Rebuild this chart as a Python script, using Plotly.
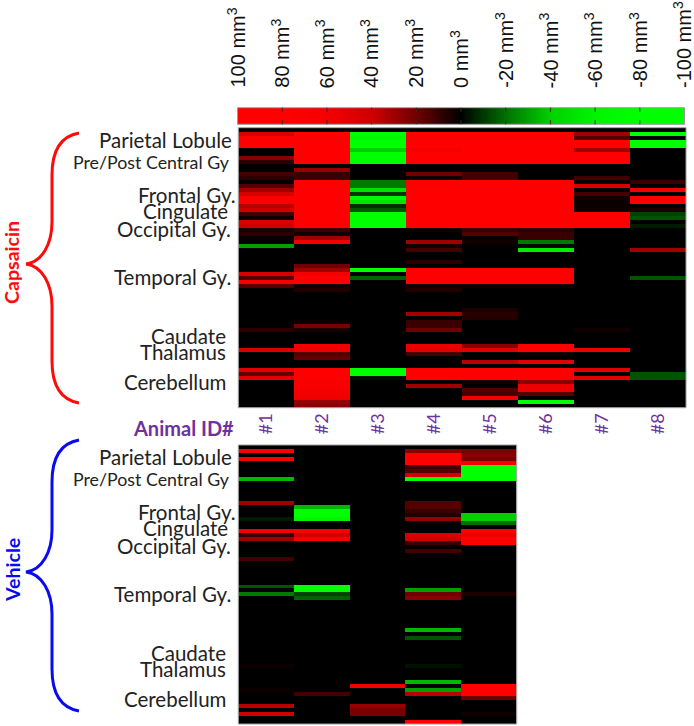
import plotly.graph_objects as go

# Change in volume (mm3), rows = brain voxels/clusters top to bottom, one list per animal
animals_cap = ["#1", "#2", "#3", "#4", "#5", "#6", "#7", "#8"]
animals_veh = ["#1", "#2", "#3", "#4", "#5"]
cap_1 = [0,45,100,100,100,0,0,25,8,0,0,12,8,0,15,30,45,80,90,35,40,12,2,45,40,5,8,2,0,-30,0,0,0,0,0,0,45,15,60,15,0,0,0,0,0,0,0,0,0,0,8,0,0,0,0,45,0,0,0,0,50,18,50,0,0,0,0,0,0,0]
cap_2 = [0,100,100,100,100,100,100,100,100,0,28,10,10,100,100,100,100,100,100,100,100,100,100,100,100,10,3,30,60,0,0,0,0,0,20,30,60,100,100,3,6,0,0,0,0,0,0,0,2,22,4,0,0,0,60,55,15,18,0,0,100,100,100,65,65,60,60,55,28,25]
cap_3 = [0,-100,-70,-100,-100,-40,-100,-100,-100,0,0,0,0,-22,-22,-50,-10,-70,-50,-8,-15,-100,-100,-100,-100,0,0,0,0,0,0,0,0,0,0,-100,0,-18,0,0,0,0,0,0,0,0,0,0,0,0,0,0,0,0,0,0,0,0,0,0,-100,-100,-3,0,0,0,0,0,0,0]
cap_4 = [0,100,100,100,100,60,100,100,100,0,0,20,3,100,100,100,100,100,100,100,100,100,100,100,100,3,0,0,30,3,12,0,0,8,0,100,100,100,100,3,6,0,0,0,0,0,30,0,10,10,20,0,0,0,55,50,12,0,0,0,100,100,100,0,30,0,0,0,0,0]
cap_5 = [0,100,100,100,100,100,100,100,100,0,0,12,12,100,100,100,100,100,100,100,100,100,100,100,100,10,15,2,3,0,0,0,0,0,0,100,100,100,100,3,0,0,0,0,0,5,7,6,0,0,0,0,0,0,25,50,0,0,35,0,100,100,100,3,0,15,12,60,0,0]
cap_6 = [0,100,100,100,100,100,100,100,100,0,0,0,0,100,100,100,100,100,100,100,100,100,100,100,100,8,10,10,-22,-2,-55,0,0,0,0,100,100,100,100,3,0,0,0,0,0,0,0,0,0,0,0,0,0,0,100,100,3,0,50,0,100,100,100,25,55,55,15,0,-90,0]
cap_7 = [0,30,15,100,100,30,100,100,100,0,0,0,12,2,45,0,12,3,2,2,3,100,100,100,100,0,0,0,0,0,0,0,0,0,0,0,0,0,0,0,0,0,0,0,0,0,0,0,0,0,3,0,0,0,0,55,0,0,0,0,50,0,50,0,0,0,0,0,0,0]
cap_8 = [0,-100,0,-80,-80,0,0,0,0,0,0,0,0,10,0,60,0,75,75,0,5,-12,-15,0,-5,0,0,0,0,0,30,0,0,0,0,0,0,-15,0,0,0,0,0,0,0,0,0,0,0,0,0,0,0,0,0,0,0,0,0,0,0,-15,-15,0,0,0,0,0,0,0]
veh_1 = [0,70,0,65,0,0,0,0,-35,0,0,0,0,0,30,0,0,0,-5,0,0,60,10,30,0,0,0,0,12,0,0,0,0,0,0,-15,0,-22,0,0,0,0,0,0,0,0,0,0,0,0,0,0,0,0,0,2,0,0,0,0,0,2,0,0,0,35,0,40,0,0]
veh_2 = [0,0,0,0,0,0,0,0,0,0,0,0,0,0,0,-35,-100,-90,-60,0,0,70,40,65,0,0,0,0,0,0,0,0,0,0,0,-90,-90,-12,-18,0,0,0,0,0,0,0,0,0,0,0,0,0,0,0,0,0,0,0,0,0,0,0,12,0,0,0,0,0,0,0]
veh_3 = [0,0,0,0,0,0,0,0,0,0,0,0,0,0,0,0,0,0,0,0,0,0,0,0,0,0,0,0,0,0,0,0,0,0,0,0,0,0,0,0,0,0,0,0,0,0,0,0,0,0,0,0,0,0,0,0,0,0,0,0,60,0,0,0,0,28,22,22,0,0]
veh_4 = [0,25,100,100,100,12,15,40,-85,0,0,0,0,0,15,15,10,6,28,0,0,0,45,40,10,0,12,0,0,0,0,0,0,0,0,0,-30,20,25,0,0,0,0,0,0,0,-35,0,-15,0,0,0,0,0,0,-3,0,0,0,-35,0,-30,35,0,0,0,0,0,0,90]
veh_5 = [0,22,25,22,60,-80,-80,-100,-100,0,0,0,0,0,0,0,0,-40,-40,-20,0,100,55,100,100,0,0,0,0,0,0,0,0,0,0,0,0,5,0,0,0,0,0,0,0,0,0,0,0,0,0,0,0,0,0,0,0,0,0,0,100,100,100,20,0,0,0,3,0,0]

regions = ["Parietal Lobule", "Pre/Post Central Gy", "Frontal Gy.", "Cingulate", "Occipital Gy.",
           "Temporal Gy.", "Caudate", "Thalamus", "Cerebellum"]
scale_values = [100, 80, 60, 40, 20, 0, -20, -40, -60, -80, -100]

W, H = 694, 726
def px(x): return x / W
def py(y): return 1 - y / H
def dx(a, b): return [px(a), px(b)]
def dy(top, bottom): return [py(bottom), py(top)]

CS = [[0, "#00ff00"], [0.1, "#00ff00"], [0.2, "#00f500"], [0.3, "#00d000"], [0.35, "#00a000"], [0.4, "#007000"],
      [0.45, "#003800"], [0.5, "#000000"], [0.55, "#380000"], [0.6, "#700000"], [0.65, "#a00000"],
      [0.7, "#d00000"], [0.8, "#f50000"], [0.9, "#ff0000"], [1, "#ff0000"]]
BORDER = "#9a9a9a"
PURPLE = "#7030a0"
LABEL = "Lato"
TEXT = "#222222"

def rows_of(cols):
    return [list(r) for r in zip(*cols)]

fig = go.Figure()
top = rows_of([cap_1, cap_2, cap_3, cap_4, cap_5, cap_6, cap_7, cap_8])
bot = rows_of([veh_1, veh_2, veh_3, veh_4, veh_5])
fig.add_trace(go.Heatmap(z=top, x=animals_cap, y=list(range(70)), zmin=-100, zmax=100,
                         colorscale=CS, showscale=False, xaxis="x", yaxis="y"))
fig.add_trace(go.Heatmap(z=bot, x=animals_veh, y=list(range(70)), zmin=-100, zmax=100,
                         colorscale=CS, showscale=False, xaxis="x2", yaxis="y2"))
# colour key: fine steps along the scale, drawn as a heatmap
key = list(range(100, -101, -1))
fig.add_trace(go.Heatmap(z=[key], x=key, y=[0], zmin=-100, zmax=100,
                         colorscale=CS, showscale=False, xaxis="x3", yaxis="y3"))

plain = dict(showgrid=False, zeroline=False, automargin=False, showline=False)
hidden = dict(showticklabels=False, ticks="", **plain)
layout = dict(
    width=W, height=H, margin=dict(l=0, r=0, t=0, b=0), paper_bgcolor="white", plot_bgcolor="white",
    showlegend=False,
    xaxis=dict(domain=dx(238.3, 686), side="bottom", tickangle=-90, ticks="", ticklabelstandoff=1,
               tickfont=dict(family=LABEL, size=18, color=PURPLE), **plain),
    yaxis=dict(domain=dy(127.7, 407.7), autorange="reversed", **hidden),
    xaxis2=dict(domain=dx(238.3, 516.7), **hidden),
    yaxis2=dict(domain=dy(445, 724), autorange="reversed", **hidden),
    xaxis3=dict(domain=dx(237.5, 684.5), side="top", range=[100, -100], **hidden),
    yaxis3=dict(domain=dy(107.7, 124.3), **hidden),
)

def brace(top, tip, bottom, color):
    P = lambda x, y: f"{px(x):.5f},{py(y):.5f}"
    path = (f"M{P(79, top)} C{P(62, top+3)} {P(52, top+16)} {P(52, top+42)} L{P(52, tip-42)} "
            f"C{P(52, tip-20)} {P(42, tip-2)} {P(26, tip)} C{P(42, tip+2)} {P(52, tip+20)} {P(52, tip+42)} "
            f"L{P(52, bottom-42)} C{P(52, bottom-16)} {P(62, bottom-3)} {P(79, bottom)}")
    return dict(type="path", path=path, xref="paper", yref="paper", line=dict(color=color, width=3), layer="above")

shapes = [brace(133, 264, 403, "#ff0a0a"), brace(440, 572, 711, "#0a0af0")]
for xa, ya in (("x", "y"), ("x2", "y2"), ("x3", "y3")):
    shapes.append(dict(type="rect", xref=f"{xa} domain", yref=f"{ya} domain", x0=0, x1=1, y0=0, y1=1,
                       line=dict(color=BORDER, width=1), layer="above"))
for v in scale_values[1:-1]:
    for y0, y1 in ((107.7, 112), (120, 124.3)):
        shapes.append(dict(type="line", x0=v, x1=v, xref="x3", y0=py(y0), y1=py(y1), yref="paper",
                           line=dict(color="#3a2a1a", width=1), layer="above"))
layout["shapes"] = shapes

region_right = [234, 232, 238, 230, 233, 233, 228, 228, 228]
region_y = [140, 162, 195, 211, 229, 277, 336, 352, 382]
region_size = [20.5, 17.8, 20.5, 20.5, 20.5, 20.5, 20.5, 20.5, 20.5]
def note(text, x, y, font, **kw):
    return dict(text=text, x=px(x), y=py(y), xref="paper", yref="paper", yanchor="middle", showarrow=False, font=font, **kw)
ann = []
for offset in (0, 317):
    for name, xr, yc, sz in zip(regions, region_right, region_y, region_size):
        ann.append(note(name, xr, yc + offset, dict(family=LABEL, size=sz, color=TEXT), xanchor="right"))
ann.append(note("<b>Animal ID#</b>", 236, 428, dict(family=LABEL, size=20, color=PURPLE), xanchor="right"))
ann.append(note("<b>Capsaicin</b>", 12, 263, dict(family=LABEL, size=19.6, color="#ff0a0a"), textangle=-90, xanchor="center"))
ann.append(note("<b>Vehicle</b>", 12, 570, dict(family=LABEL, size=19.6, color="#0a0af0"), textangle=-90, xanchor="center"))
for v in scale_values:
    ann.append(dict(text=f"{v} mm<sup>3</sup>", x=v, xref="x3", xshift=-2, y=py(90), yref="paper", textangle=-90, xanchor="center",
                    yanchor="bottom", showarrow=False, font=dict(family="Liberation Sans", size=20, color="#111111")))
layout["annotations"] = ann
fig.update_layout(**layout)
fig.write_html("out.html", config=dict(displayModeBar=False),
               post_script="document.documentElement.style.overflow='hidden';document.body.style.overflow='hidden';document.body.style.margin='0';")
